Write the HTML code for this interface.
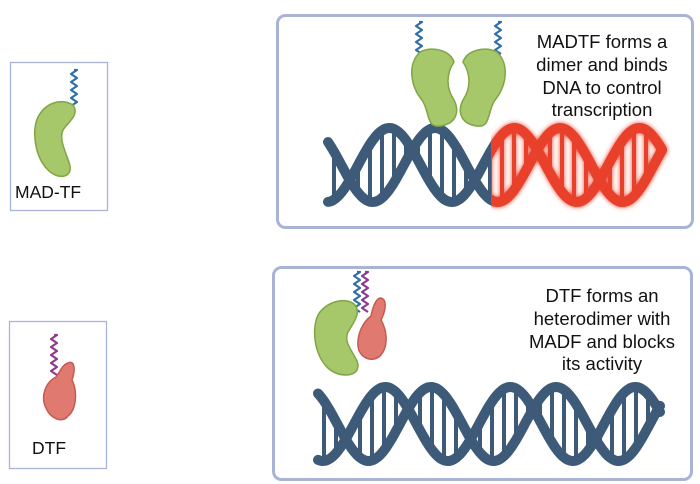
<!DOCTYPE html>
<html><head><meta charset="utf-8"><style>
html,body{margin:0;padding:0;background:#fff;}
svg{display:block}
text{font-family:"Liberation Sans",sans-serif;fill:#111;}
</style></head><body>
<svg id="s" width="700" height="484" viewBox="0 0 700 484" xmlns="http://www.w3.org/2000/svg">
<defs>
<filter id="glow" x="-10%" y="-20%" width="120%" height="140%"><feGaussianBlur in="SourceGraphic" stdDeviation="2.5" result="b"/><feMerge><feMergeNode in="b"/><feMergeNode in="SourceGraphic"/></feMerge></filter>
<clipPath id="cl"><rect x="0" y="0" width="491" height="484"/></clipPath>
<clipPath id="cr"><rect x="491" y="0" width="300" height="484"/></clipPath>
</defs>
<rect x="10.5" y="62.5" width="97" height="148" fill="#fff" stroke="#a9b3d6" stroke-width="1.3"/>
<rect x="9.5" y="321.5" width="97" height="147" fill="#fff" stroke="#a9b3d6" stroke-width="1.3"/>
<rect x="277.5" y="15.5" width="415" height="212" rx="8" fill="#fff" stroke="#a9b3d6" stroke-width="3"/>
<rect x="273.5" y="267.5" width="418" height="212" rx="8" fill="#fff" stroke="#a9b3d6" stroke-width="3"/>

<text x="15" y="198" font-size="17.5">MAD-TF</text>
<text x="32" y="454" font-size="17.5">DTF</text>
<g font-size="18.5" text-anchor="middle">
<text x="602" y="48">MADTF forms a</text>
<text x="602" y="71">dimer and binds</text>
<text x="602" y="94">DNA to control</text>
<text x="602" y="116">transcription</text>
<text x="602" y="302">DTF forms an</text>
<text x="602" y="325">heterodimer with</text>
<text x="602" y="348">MADF and blocks</text>
<text x="602" y="370">its activity</text>
</g>
<g id="dna"></g>
<g id="prot"></g>
</svg>
<script>
var NS="http://www.w3.org/2000/svg";
function el(t,a,p){var e=document.createElementNS(NS,t);for(var k in a)e.setAttribute(k,a[k]);(p||document.getElementById('dna')).appendChild(e);return e;}
function helix(g,x0,x1,c,A,P,ph,off,col){
 var a="",b="";
 for(var x=x0;x<=x1;x+=2){var t=2*Math.PI*(x-x0)/P+ph;
  var ya=c-A*Math.cos(t),yb=c-A*Math.cos(t+off);
  a+=(x==x0?"M":"L")+x+" "+ya.toFixed(1);b+=(x==x0?"M":"L")+x+" "+yb.toFixed(1);}
 for(var x=x0+6;x<x1-4;x+=12){var t=2*Math.PI*(x-x0)/P+ph;var ya=c-A*Math.cos(t),yb=c-A*Math.cos(t+off);
  if(Math.abs(ya-yb)>14) el('line',{x1:x,x2:x,y1:ya,y2:yb,stroke:col,'stroke-width':4},g);}
 el('path',{d:a,fill:'none',stroke:col,'stroke-width':10,'stroke-linecap':'round'},g);
 el('path',{d:b,fill:'none',stroke:col,'stroke-width':10,'stroke-linecap':'round'},g);
}
var g1=el('g',{'clip-path':'url(#cl)'});helix(g1,328,662,165,37,125,0.9,2.3,'#3d5a78');
var g2=el('g',{'clip-path':'url(#cr)',filter:'url(#glow)'});helix(g2,328,662,165,37,125,0.9,2.3,'#e8402c');
var g3=el('g',{});helix(g3,318,660,424,37,125,0.6,2.3,'#3d5a78');

var P=document.getElementById('prot');
function coil(x,y0,y1,col,w){var d="M"+x+" "+y0,i=0;for(var y=y0;y<=y1;y+=4){d+="L"+(x+(i%2?-3:3))+" "+y;i++;}el('path',{d:d,fill:'none',stroke:col,'stroke-width':w||2.2,'stroke-linejoin':'round'},P);}
function blob(d,f,s){el('path',{d:d,fill:f,stroke:s,'stroke-width':1.5},P);}
var G='#a6c76a',GS='#7fa645',R='#e07a70',RS='#c55a52';
coil(74,70,106,'#2f6fa8');
blob("M73 105 C80 115 68 122 63 130 C58 140 68 156 70 166 C72 178 58 180 48 170 C34 156 32 130 38 117 C46 102 62 98 73 105Z",G,GS);
coil(54,335,377,'#8e3a8e');
blob("M68 363 C74 360 76 368 72 380 C78 392 76 410 68 416 C62 424 50 418 46 408 C40 396 46 382 56 377 C60 372 62 365 68 363Z",R,RS);
coil(419,22,56,'#2f6fa8');coil(498,22,56,'#2f6fa8');
blob("M420 52 C432 46 450 50 454 62 C446 74 446 88 454 100 C460 112 456 124 440 126 C426 128 430 112 422 100 C412 88 406 66 420 52Z",G,GS);
blob("M497 52 C485 46 467 50 463 62 C471 74 471 88 463 100 C457 112 461 124 477 126 C491 128 487 112 495 100 C505 88 511 66 497 52Z",G,GS);
coil(357,272,312,'#2f6fa8');coil(365,272,312,'#8e3a8e');
blob("M354 304 C362 312 354 322 348 332 C342 344 358 356 358 366 C358 378 336 378 326 366 C312 350 312 322 320 312 C330 300 346 298 354 304Z",G,GS);
blob("M381 298 C388 300 385 312 381 320 C388 332 388 348 380 356 C372 363 359 358 358 346 C357 334 363 322 371 316 C373 306 376 298 381 298Z",R,RS);
</script>
</body></html>
